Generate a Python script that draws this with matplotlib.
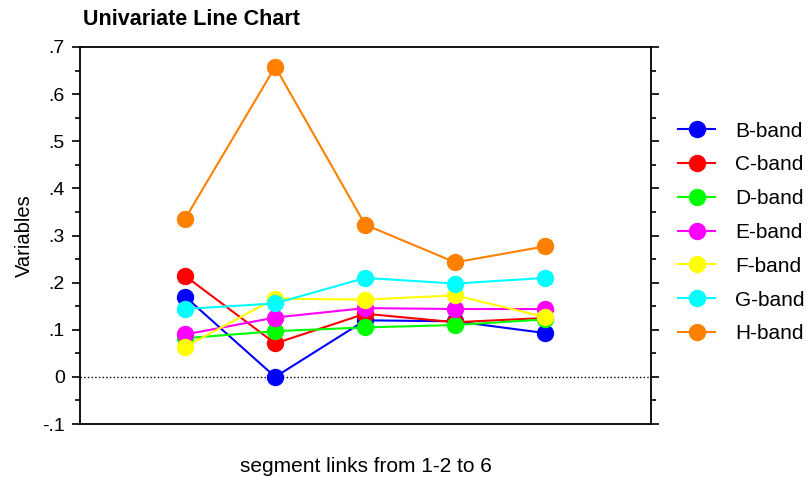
import matplotlib
matplotlib.use("Agg")
import matplotlib.pyplot as plt
from matplotlib.ticker import FixedLocator, FuncFormatter

plt.rcParams["font.family"] = ["Liberation Sans", "DejaVu Sans"]

# ── data ─────────────────────────────────────────────────────────────────────
segments = [0, 1, 2, 3, 4]
labels = ["B-band", "C-band", "D-band", "E-band", "F-band", "G-band", "H-band"]
colors = ["#0000ff", "#ff0000", "#00ff00", "#ff00ff", "#ffff00", "#00ffff", "#ff8000"]

b_band = [0.170, 0.000, 0.120, 0.118, 0.093]
c_band = [0.214, 0.071, 0.134, 0.116, 0.125]
d_band = [0.082, 0.097, 0.105, 0.110, 0.122]
e_band = [0.090, 0.126, 0.146, 0.144, 0.144]
f_band = [0.064, 0.166, 0.164, 0.173, 0.127]
g_band = [0.144, 0.156, 0.210, 0.198, 0.210]
h_band = [0.336, 0.658, 0.323, 0.243, 0.277]
series = [b_band, c_band, d_band, e_band, f_band, g_band, h_band]

y_ticks = [-0.1, 0.0, 0.1, 0.2, 0.3, 0.4, 0.5, 0.6, 0.7]
y_minor = [-0.05, 0.05, 0.15, 0.25, 0.35, 0.45, 0.55, 0.65]

# ── figure ───────────────────────────────────────────────────────────────────
fig = plt.figure(figsize=(8.08, 4.82), dpi=100)
ax = fig.add_axes([0.099, 0.1203, 0.707, 0.7822])

ax.axhline(0, color="black", linestyle=":", linewidth=1.0, zorder=1)

for vals, lab, col in zip(series, labels, colors):
    ax.plot(segments, vals, color=col, linewidth=1.5, marker="o",
            markersize=11.5, label=lab, zorder=3)

ax.set_xlim(-1.17, 5.18)
ax.set_ylim(-0.1, 0.7)
ax.set_xticks([])
ax.yaxis.set_major_locator(FixedLocator(y_ticks))
ax.yaxis.set_minor_locator(FixedLocator(y_minor))


def fmt(v, pos):
    if abs(v) < 1e-9:
        return "0"
    s = f"{v:.1f}"
    return s.replace("0.", ".")


ax.yaxis.set_major_formatter(FuncFormatter(fmt))
ax.tick_params(axis="y", which="both", left=True, right=True, direction="out",
               labelsize=14, width=1.2, pad=5)
ax.tick_params(axis="y", which="major", length=6)
ax.tick_params(axis="y", which="minor", length=3.5)
for sp in ax.spines.values():
    sp.set_linewidth(1.3)

ax.set_ylabel("Variables", fontsize=14.5, labelpad=5.5)
ax.set_xlabel("segment links from 1-2 to 6", fontsize=15, labelpad=24)
fig.text(0.103, 0.96, "Univariate Line Chart", fontsize=15.5, fontweight="bold",
         ha="left", va="center")

ax.legend(loc="upper left", bbox_to_anchor=(0.829, 0.765),
          bbox_transform=fig.transFigure, frameon=False, fontsize=15,
          handlelength=1.78, handletextpad=0.96, labelspacing=0.71,
          borderaxespad=0)

fig.savefig("out.png", dpi=100)
